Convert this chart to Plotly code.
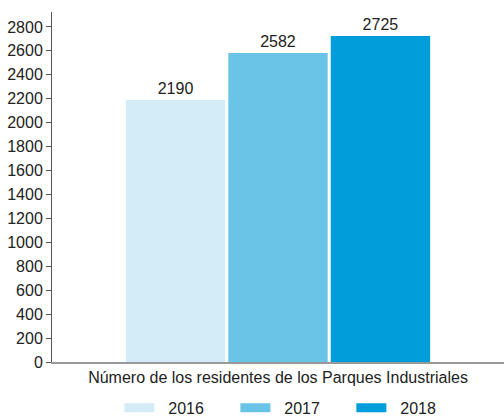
import plotly.graph_objects as go

categories = ["Número de los residentes de los Parques Industriales"]
years = ["2016", "2017", "2018"]
residents = [2190, 2582, 2725]
colors = ["#d3ecf7", "#69c4e8", "#009ddb"]
y_ticks = list(range(0, 2801, 200))

fig = go.Figure()
for year, value, color in zip(years, residents, colors):
    fig.add_trace(go.Bar(
        x=categories, y=[value], name=year,
        marker=dict(color=color, line=dict(width=0)),
        text=[str(value)], textposition="outside",
        textfont=dict(size=16, color="#222222"),
        cliponaxis=False, showlegend=False,
    ))
    # wide swatch for the legend entry
    fig.add_trace(go.Scatter(
        x=[None], y=[None], mode="lines", name="  " + year,
        line=dict(color=color, width=9),
    ))

fig.update_layout(
    width=504, height=417,
    margin=dict(l=52, r=0, t=12, b=55, autoexpand=False),
    paper_bgcolor="white", plot_bgcolor="white",
    font=dict(family="Liberation Sans, Arial, sans-serif", size=16, color="#222222"),
    barmode="group", bargap=0.32, bargroupgap=0.03,
    showlegend=True,
    legend=dict(orientation="h", x=0.534, xanchor="center", y=-0.131, yanchor="middle",
                entrywidth=71, itemwidth=30, font=dict(size=16),
                bgcolor="rgba(0,0,0,0)"),
)
fig.update_xaxes(showline=True, linecolor="#999999", linewidth=1.5,
                 ticks="", tickfont=dict(size=16), showgrid=False)
fig.update_yaxes(range=[0, 2925], tickvals=y_ticks, showline=True,
                 linecolor="#555555", linewidth=1, ticks="outside", ticklen=5,
                 tickcolor="#555555", showgrid=False, zeroline=False,
                 tickfont=dict(size=16))

fig.write_html("out.html")
